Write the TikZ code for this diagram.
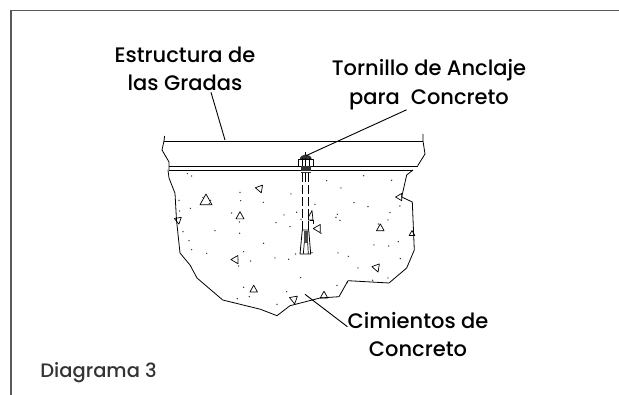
\documentclass[tikz,border=0pt]{standalone}
\usepackage{fontspec}
\setmainfont{Poppins}[UprightFont={* Medium}]
\tikzset{
	label/.style={align=center, inner sep=0pt, font=\fontsize{21}{28.5}\selectfont},
	leader/.style={line width=0.9pt},
	edge/.style={line width=0.8pt, line join=round},
	speck/.style={fill=black!85},
	stone/.style={line width=0.7pt, line join=round}
}
\begin{document}
\begin{tikzpicture}[x=1pt,y=-1pt]
	\useasboundingbox (0,0) rectangle (619,395);
	\draw[line width=1.4pt, black!65] (11,395) -- (11,10.7) -- (619,10.7);
	% slab
	\draw[edge] (164.6,136) -- (164,141) -- (162,150) -- (169,162) -- (169,170);
	\draw[edge] (423,134) -- (423,141) -- (425,154) -- (417.7,165.7);
	\draw[edge] (164,141) -- (423,141);
	\draw[edge] (169,166.3) -- (418,166.3);
	\draw[line width=1pt] (169,170.3) -- (413,170.3);
	% footing
	\draw[edge] (168,170) -- (169,178) -- (175,193.3) -- (176.5,220) -- (180,253) -- (190,265) -- (197,278) -- (222.7,300)
		-- (260.5,309.3) -- (277,315.7) -- (290,305.7) -- (320,298) -- (339,296.7) -- (348,280.7) -- (389,283)
		-- (406.7,268) -- (414.3,250) -- (412.3,202) -- (401.7,197) -- (406.7,175) -- (413,170);
	% stones
	\foreach \x/\y/\r/\s in {206/200/0/6, 260/189.3/200/3.8, 240/215.7/0/4, 178.3/220.7/190/3.5,
		318.3/229.3/210/4, 380.3/227.7/0/3.8, 400/197.7/210/3.5, 412/233.3/0/2.8, 236/260.3/210/4,
		376.7/268.3/200/4, 253.7/289/0/3.8, 294/300/190/4, 324/295/0/3.8}
		\draw[stone, shift={(\x,\y)}, rotate=\r] (0,-\s) -- (\s,0.8*\s) -- (-\s,0.8*\s) -- cycle;
	\draw[stone] (308.5,217) -- (312,210.5) -- (313,220) -- (308.5,220) -- cycle;
	\draw[stone] (310,220) -- (313.5,220) -- (313.5,224);
	% specks
	\begin{scope}[shift={(140,170)},x=0.3333pt,y=-0.3333pt]
		\foreach \x/\y in {142/11,155/18,300/67,302/92,370/97,453/72,560/32,603/54,671/17,755/31,642/98,684/110,
			780/108,750/128,744/150,715/162,592/133,588/142,600/151,525/103,470/127,432/135,408/158,450/170,
			483/148,117/91,119/123,151/115,189/82,212/91,208/100,275/129,129/185,225/182,299/190,298/156,
			147/212,155/239,200/250,371/220,311/245,332/273,296/288,405/264,446/268,467/252,516/248,594/249,
			625/259,702/225,746/228,775/215,781/266,654/294,698/331,744/324,591/346,622/338,482/323,440/365,
			311/352,328/380,292/386,411/403,543/190}
			\fill[speck] (\x,\y) circle (2.2);
	\end{scope}
	% anchor bolt
	\fill[black!80] (299.5,160) .. controls (300,156) and (303,154.5) .. (305.7,154.5) .. controls (308.5,154.5) and (311.5,156) .. (312,160) -- cycle;
	\draw[edge] (305.7,152) -- (305.7,155);
	\draw[edge] (298.3,159) rectangle (313.3,166.3);
	\foreach \x in {302,305.7,309.5}
		\draw[edge] (\x,158) -- (\x,166.3);
	\fill[black!80] (300.7,166.3) rectangle (310.7,173);
	\draw[white, line width=0.4pt] (301,171) -- (310.5,171);
	\draw[edge] (305.7,173) -- (305.7,182);
	\draw[edge, dash pattern=on 9pt off 3pt] (302.3,173) -- (302.3,230);
	\draw[edge, dash pattern=on 9pt off 3pt] (308.7,173) -- (308.7,230);
	\draw[edge] (302.3,230) -- (300,254) -- (310.7,254) -- (308.7,230) -- cycle;
	\fill[black!70] (304.3,230.7) rectangle (307.7,242.7);
	\draw[stone] (304.3,242.7) -- (303.3,254) (307.7,242.7) -- (308.3,254);
	% labels
	\node[label] (gradas) at (185,69) {Estructura de\\las Gradas};
	\node[label] (tornillo) at (429,84.5) {Tornillo de Anclaje\\para\ \ Concreto};
	\node[label] (cimientos) at (418,334.5) {Cimientos de\\Concreto};
	\node[label, font=\fontsize{19.5}{28}\selectfont, black!80] (diagrama) at (98.5,373) {Diagrama 3};
	% leaders
	\coordinate (slabtop) at (225,140);
	\coordinate (bolttop) at (306,155.7);
	\coordinate (footing) at (305,294.3);
	\draw[leader] (gradas.south -| 211,0) ++(0,1) -- (slabtop);
	\draw[leader] (tornillo.south -| 406.6,0) -- (bolttop);
	\draw[leader] (cimientos.west |- 0,326.7) -- (footing);
\end{tikzpicture}
\end{document}
